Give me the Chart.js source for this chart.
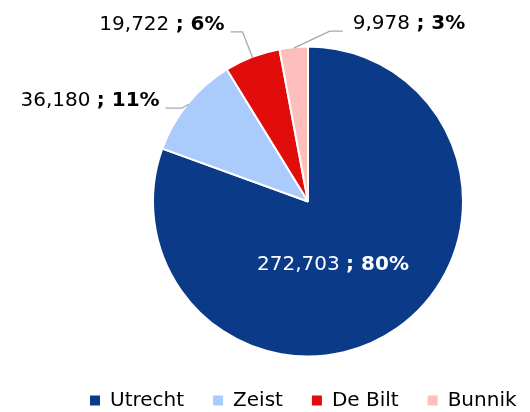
<!DOCTYPE html>
<html>
<head>
<meta charset="utf-8">
<script src="https://cdn.jsdelivr.net/npm/chart.js@4"></script>
<style>
  html, body { margin: 0; padding: 0; background: #ffffff; overflow: hidden; }
  #wrap { width: 530px; height: 412px; overflow: hidden; }
</style>
</head>
<body>
<div id="wrap"><canvas id="chart" width="560" height="412"></canvas></div>
<script>
const cities = ["Utrecht", "Zeist", "De Bilt", "Bunnik"];
const inhabitants = [272703, 36180, 19722, 9978];
const valueLabels = ["272,703", "36,180", "19,722", "9,978"];
const shareLabels = ["80%", "11%", "6%", "3%"];
const sliceColors = ["#0b3a88", "#abcbfd", "#e00d0b", "#febfbc"];

const FONT = "'DejaVu Sans', sans-serif";
const FONT_SIZE = 20;

// where each label goes, relative to the middle of its slice's outer edge
// (inside: offset from the pie centre instead)
const labelLayout = [
    { inside: true, dx: 25, dy: 63 },
    { elbow: [-7, 4], end: [-23, 4], text: [-29, -3], align: "right" },
    { elbow: [-10, -26], end: [-22, -26], text: [-28, -33], align: "right" },
    { elbow: [36, -17], end: [49, -17], text: [59, -24], align: "left" }
];

function drawLabel(ctx, x, y, value, share, align, color) {
    const parts = [
        { t: value + " ", bold: false },
        { t: "; " + share, bold: true }
    ];
    let total = 0;
    parts.forEach(p => {
        ctx.font = (p.bold ? "bold " : "") + FONT_SIZE + "px " + FONT;
        p.w = ctx.measureText(p.t).width;
        total += p.w;
    });
    let cx = align === "right" ? x - total : align === "center" ? x - total / 2 : x;
    ctx.fillStyle = color;
    ctx.textBaseline = "middle";
    ctx.textAlign = "left";
    parts.forEach(p => {
        ctx.font = (p.bold ? "bold " : "") + FONT_SIZE + "px " + FONT;
        ctx.fillText(p.t, cx, y);
        cx += p.w;
    });
}

const sliceLabels = {
    id: "sliceLabels",
    afterDatasetsDraw(chart) {
        const ctx = chart.ctx;
        const arcs = chart.getDatasetMeta(0).data;
        ctx.save();
        arcs.forEach((arc, i) => {
            const p = arc.getProps(["x", "y", "startAngle", "endAngle", "outerRadius"], true);
            const lay = labelLayout[i];
            if (lay.inside) {
                drawLabel(ctx, p.x + lay.dx, p.y + lay.dy, valueLabels[i], shareLabels[i], "center", "#ffffff");
                return;
            }
            const mid = (p.startAngle + p.endAngle) / 2;
            const ex = p.x + Math.cos(mid) * (p.outerRadius - 1);
            const ey = p.y + Math.sin(mid) * (p.outerRadius - 1);
            ctx.strokeStyle = "#a6a6a6";
            ctx.lineWidth = 1.3;
            ctx.beginPath();
            ctx.moveTo(ex, ey);
            ctx.lineTo(ex + lay.elbow[0], ey + lay.elbow[1]);
            ctx.lineTo(ex + lay.end[0], ey + lay.end[1]);
            ctx.stroke();
            drawLabel(ctx, ex + lay.text[0], ey + lay.text[1], valueLabels[i], shareLabels[i], lay.align, "#000000");
        });
        ctx.restore();
    }
};

new Chart(document.getElementById("chart").getContext("2d"), {
    type: "pie",
    data: {
        labels: cities,
        datasets: [{
            data: inhabitants,
            backgroundColor: sliceColors,
            borderColor: "#ffffff",
            borderWidth: 2,
            radius: 155
        }]
    },
    options: {
        responsive: false,
        animation: false,
        layout: {
            // canvas is a bit wider than the page so the legend fits on one row
            padding: { top: 41.5, bottom: -8.5, left: 61, right: 5 }
        },
        plugins: {
            legend: {
                position: "bottom",
                align: "start",
                labels: {
                    boxWidth: 10,
                    boxHeight: 10,
                    padding: 29,
                    color: "#000000",
                    font: { family: FONT, size: FONT_SIZE },
                    generateLabels(chart) {
                        // same items as the default, but without the white slice border
                        return Chart.overrides.pie.plugins.legend.labels.generateLabels(chart)
                            .map(item => ({ ...item, lineWidth: 0 }));
                    }
                }
            },
            tooltip: { enabled: false }
        }
    },
    plugins: [sliceLabels]
});
</script>
</body>
</html>
